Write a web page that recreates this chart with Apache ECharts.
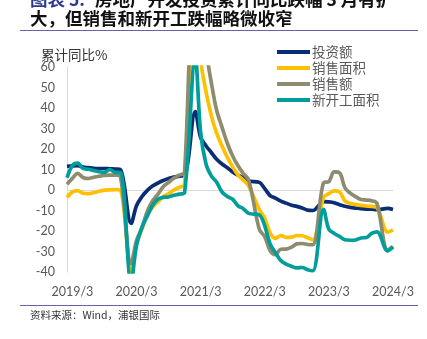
<!DOCTYPE html>
<html><head><meta charset="utf-8">
<script src="https://cdn.jsdelivr.net/npm/echarts@6/dist/echarts.min.js"></script>
<style>html,body{margin:0;padding:0;background:#fff}#c{width:427px;height:339px}</style>
</head><body><div id="c"></div>
<script>
// periods: cumulative YoY, Jan-Feb reported as "/2"
const periods = [
 '2019/2','2019/3','2019/4','2019/5','2019/6','2019/7','2019/8','2019/9','2019/10','2019/11','2019/12',
 '2020/2','2020/3','2020/4','2020/5','2020/6','2020/7','2020/8','2020/9','2020/10','2020/11','2020/12',
 '2021/2','2021/3','2021/4','2021/5','2021/6','2021/7','2021/8','2021/9','2021/10','2021/11','2021/12',
 '2022/2','2022/3','2022/4','2022/5','2022/6','2022/7','2022/8','2022/9','2022/10','2022/11','2022/12',
 '2023/2','2023/3','2023/4','2023/5','2023/6','2023/7','2023/8','2023/9','2023/10','2023/11','2023/12',
 '2024/2','2024/3'];
const investment = [
 11.6,11.8,11.9,11.2,10.9,10.6,10.5,10.5,10.3,10.2,9.9,
 -16.3,-7.7,-3.3,-0.3,1.9,3.4,4.6,5.6,6.3,6.8,7.0,
 38.3,25.6,21.6,18.3,15.0,12.7,10.9,8.8,7.2,6.0,4.4,
 3.7,0.7,-2.7,-4.0,-5.4,-6.4,-7.4,-8.0,-8.8,-9.8,-10.0,
 -5.7,-5.8,-6.2,-7.2,-7.9,-8.5,-8.8,-9.1,-9.3,-9.4,-9.6,
 -9.0,-9.5];
const salesArea = [
 -3.6,-0.9,-0.3,-1.6,-1.8,-1.3,-0.6,-0.1,0.1,0.2,-0.1,
 -39.9,-26.3,-19.3,-12.3,-8.4,-5.8,-3.3,-1.8,0.0,1.3,2.6,
 104.9,63.8,48.1,36.3,27.7,21.5,15.9,11.3,7.3,4.8,1.9,
 -9.6,-13.8,-20.9,-23.6,-22.2,-23.1,-23.0,-22.2,-22.3,-23.3,-24.3,
 -3.6,-1.8,-0.4,-0.9,-5.3,-6.5,-7.1,-7.5,-7.8,-8.0,-8.5,
 -20.5,-19.4];
const salesValue = [
 2.8,5.6,8.1,6.1,5.6,6.2,6.7,7.1,7.3,7.3,6.5,
 -35.9,-24.7,-18.6,-10.6,-5.4,-2.1,1.6,3.7,5.8,7.2,8.7,
 133.4,88.5,68.2,52.4,38.9,30.7,22.8,16.6,11.8,8.0,4.8,
 -19.3,-22.7,-29.5,-31.5,-28.9,-28.8,-27.9,-26.3,-26.1,-26.6,-26.7,
 3.5,4.1,8.8,8.4,1.1,-1.5,-3.2,-4.6,-4.9,-5.2,-6.5,
 -29.3,-27.6];
const newStarts = [
 6.0,11.9,13.1,10.5,10.1,9.5,8.9,8.6,10.0,8.6,8.5,
 -44.9,-27.2,-18.4,-12.8,-7.6,-4.5,-3.6,-3.4,-2.6,-2.0,-1.2,
 64.3,28.2,12.8,6.9,3.8,-0.9,-3.2,-4.5,-7.7,-9.1,-11.4,
 -12.2,-17.5,-26.3,-30.6,-34.4,-36.1,-37.2,-38.0,-37.8,-38.9,-39.4,
 -9.4,-19.2,-21.2,-22.6,-24.3,-24.5,-24.4,-23.4,-23.2,-21.2,-20.4,
 -29.7,-27.8];
const seriesNames = ['投资额','销售面积','销售额','新开工面积'];
const seriesColors = ['#0A2D74','#FFC000','#8E8B6E','#009E9A'];
const yTicks = {min:-40, max:60, step:10};

// full monthly axis (January slots are empty; cumulative data starts in Feb)
const months = [];
{
  const [y0,m0] = periods[0].split('/').map(Number);
  const [y1,m1] = periods[periods.length-1].split('/').map(Number);
  let y=y0,m=m0;
  while (y<y1 || (y===y1 && m<=m1)) { months.push(y+'/'+m); m++; if(m>12){m=1;y++;} }
}
function expand(vals){
  const map = {}; periods.forEach((p,i)=>map[p]=vals[i]);
  return months.map(mo => (mo in map) ? map[mo] : null);
}
const allVals = [investment, salesArea, salesValue, newStarts];

const chart = echarts.init(document.getElementById('c'));
const font = 'Lato, "Noto Sans", sans-serif';
const cjk = '"Noto Sans CJK SC", sans-serif';
chart.setOption({
  animation:false,
  backgroundColor:'#fff',
  grid:{left:67, right:34, top:67, height:205},
  legend:{
    orient:'vertical', left:277, top:45, padding:0, itemWidth:33, itemHeight:4, itemGap:2,
    icon:'rect',
    data:seriesNames,
    textStyle:{fontFamily:cjk, fontSize:13.5, color:'#595959', lineHeight:14, padding:[0,0,0,-3]}
  },
  xAxis:{
    type:'category', data:months, boundaryGap:false,
    axisLine:{show:false}, axisTick:{show:false},
    axisLabel:{
      interval:(i,v)=>v.endsWith('/3'),
      color:'#595959', fontFamily:font, fontSize:12.5, margin:13
    },
    splitLine:{show:false}
  },
  yAxis:{
    type:'value', min:yTicks.min, max:yTicks.max, interval:yTicks.step,
    axisLine:{show:true, lineStyle:{color:'#D9D9D9', width:1}},
    axisTick:{show:false},
    axisLabel:{color:'#595959', fontFamily:font, fontSize:12.5, margin:12},
    splitLine:{show:false}
  },
  series: seriesNames.map((n,i)=>({
    name:n, type:'line', data:expand(allVals[i]), connectNulls:true,
    smooth:0.35, symbol:'none', clip:true,
    lineStyle:{color:seriesColors[i], width:3.7},
    itemStyle:{color:seriesColors[i]},
    markLine: i===0 ? {silent:true, symbol:'none', label:{show:false},
      lineStyle:{color:'#D9D9D9', width:1, type:'solid'}, data:[{yAxis:0}], z:0} : undefined,
    z: 2+i
  })),
  graphic:[
    {type:'text', left:30, top:-9, style:{text:'图表 5:', fontFamily:cjk, fontSize:17.5, fontWeight:'bold', fill:'#2B3990'}},
    {type:'text', left:95, top:-9, style:{text:'房地产开发投资累计同比跌幅 3 月有扩', fontFamily:cjk, fontSize:17.5, fontWeight:'bold', fill:'#111'}},
    {type:'text', left:30, top:10, style:{text:'大，但销售和新开工跌幅略微收窄', fontFamily:cjk, fontSize:17.5, fontWeight:'bold', fill:'#111'}},
    {type:'line', shape:{x1:20,y1:30.5,x2:418,y2:30.5}, style:{stroke:'#6A62A8', lineWidth:1.2}},
    {type:'text', left:41, top:48, style:{text:'累计同比%', fontFamily:cjk, fontSize:13.5, fill:'#333'}},
    {type:'line', shape:{x1:20,y1:305.5,x2:418,y2:305.5}, style:{stroke:'#6A62A8', lineWidth:1.2}},
    {type:'text', left:30, top:310, style:{text:'资料来源：Wind，浦银国际', fontFamily:cjk, fontSize:10.5, fill:'#333'}}
  ]
});
</script></body></html>
